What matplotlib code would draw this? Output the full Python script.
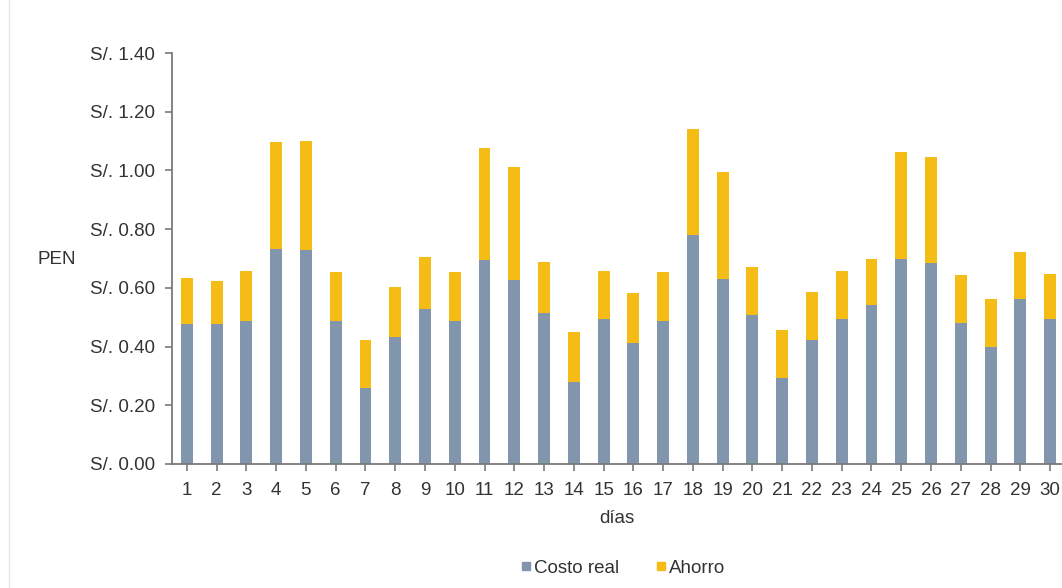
import numpy as np
import matplotlib
matplotlib.use('Agg')
import matplotlib.pyplot as plt
from matplotlib.lines import Line2D

plt.rcParams['font.family'] = ['Liberation Sans', 'DejaVu Sans']

# daily values (PEN)
dias = list(range(1, 31))
costo_real = [0.477, 0.477, 0.487, 0.732, 0.729, 0.487, 0.259, 0.433, 0.528, 0.487,
              0.695, 0.627, 0.514, 0.279, 0.494, 0.412, 0.487, 0.780, 0.630, 0.507,
              0.293, 0.422, 0.494, 0.542, 0.698, 0.685, 0.480, 0.399, 0.562, 0.494]
total = [0.634, 0.623, 0.657, 1.097, 1.100, 0.654, 0.422, 0.603, 0.705, 0.654,
         1.076, 1.012, 0.688, 0.450, 0.657, 0.582, 0.654, 1.141, 0.995, 0.671,
         0.456, 0.586, 0.657, 0.698, 1.063, 1.046, 0.644, 0.562, 0.722, 0.647]
ahorro = [t - c for t, c in zip(total, costo_real)]
y_ticks = [0.0, 0.2, 0.4, 0.6, 0.8, 1.0, 1.2, 1.4]

gris = '#8195ad'
amarillo = '#f5bc16'
texto = '#333333'
fs = 13.5

fig = plt.figure(figsize=(10.62, 5.88), dpi=100)
ax = fig.add_axes([172 / 1062, 1 - 464 / 588, 1 - 172 / 1062, (464 - 53) / 588])

ax.bar(dias, costo_real, width=0.4, color=gris, label='Costo real')
ax.bar(dias, ahorro, width=0.4, bottom=costo_real, color=amarillo, label='Ahorro')

ax.set_xlim(0.5, 30.4)
ax.set_ylim(0, 1.4)
ax.set_yticks(y_ticks)
ax.set_yticklabels(['S/. %.2f' % v for v in y_ticks])
ax.set_xticks(dias)
ax.set_xticklabels([str(d) for d in dias])

for s in ['top', 'right']:
    ax.spines[s].set_visible(False)
for s in ['left', 'bottom']:
    ax.spines[s].set_color('#7a7a7a')
    ax.spines[s].set_linewidth(1.3)
ax.spines['bottom'].set_zorder(5)

ax.tick_params(axis='y', colors='#7a7a7a', length=5, width=1.2, labelsize=fs,
               labelcolor=texto, pad=7)
ax.tick_params(axis='x', colors='#7a7a7a', length=5, width=1.2, labelsize=fs,
               labelcolor=texto, pad=8)

ax.set_xlabel('días', fontsize=fs, color=texto, labelpad=8)
ax.set_ylabel('PEN', fontsize=fs, color=texto, rotation=0, va='center', ha='center')
ax.yaxis.set_label_coords(-0.130, 0.497)

handles = [Line2D([], [], marker='s', linestyle='', color=gris, markersize=6),
           Line2D([], [], marker='s', linestyle='', color=amarillo, markersize=6)]
fig.legend(handles, ['Costo real', 'Ahorro'], loc='center', ncol=2,
           bbox_to_anchor=(622 / 1062, 1 - 568 / 588), frameon=False,
           fontsize=fs, handletextpad=0.05, columnspacing=1.8,
           labelcolor=texto, handlelength=0.8)

# faint frame edge on the left
fig.add_artist(Line2D([9 / 1062, 9 / 1062], [0, 1], color='#e6e6e6', linewidth=1))

fig.savefig('out.png', dpi=100)
